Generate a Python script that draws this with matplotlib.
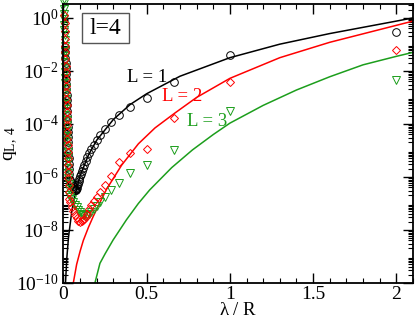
import numpy as np
import matplotlib.pyplot as plt
import matplotlib as mpl
from matplotlib.patches import Rectangle
from matplotlib.ticker import LogLocator, MultipleLocator, NullFormatter

mpl.rcParams['font.family'] = 'serif'
mpl.rcParams['font.serif'] = ['Liberation Serif', 'DejaVu Serif']
mpl.rcParams['mathtext.fontset'] = 'custom'
mpl.rcParams['mathtext.rm'] = 'Liberation Serif'
mpl.rcParams['mathtext.it'] = 'Liberation Serif:italic'

# symbols: x = lambda/R, q = log10 of q_{L,4}
# L = 1 (circles)
x_c = [2.0, 1.0, 0.667, 0.5, 0.4, 0.333, 0.286, 0.25, 0.222, 0.2,
       0.182, 0.167, 0.154, 0.143, 0.133, 0.125, 0.118, 0.111, 0.105, 0.1,
       0.095, 0.091, 0.087, 0.083, 0.08, 0.077, 0.074, 0.071, 0.069, 0.065,
       0.06, 0.055, 0.05, 0.045, 0.04,
       0.034, 0.033, 0.032, 0.031, 0.03, 0.029, 0.028, 0.027, 0.026, 0.025,
       0.024, 0.023, 0.022, 0.021, 0.02, 0.019, 0.018, 0.017, 0.016, 0.015,
       0.014, 0.013, 0.012, 0.011, 0.01]
q_c = [-0.52, -1.40, -2.40, -3.03, -3.35, -3.66, -3.91, -4.20, -4.42, -4.60,
       -4.79, -4.95, -5.10, -5.25, -5.40, -5.55, -5.65, -5.78, -5.88, -5.98,
       -6.08, -6.17, -6.25, -6.32, -6.40, -6.45, -6.48, -6.50, -6.48, -6.45,
       -6.40, -6.35, -6.28, -6.20, -6.10,
       -5.9, -5.7, -5.5, -5.3, -5.1, -4.9, -4.7, -4.5, -4.3, -4.1,
       -3.9, -3.7, -3.5, -3.3, -3.1, -2.9, -2.7, -2.5, -2.3, -2.1,
       -1.9, -1.7, -1.5, -1.3, -1.1]

# L = 2 (diamonds)
x_d = [2.0, 1.0, 0.667, 0.5, 0.4, 0.333, 0.286, 0.25, 0.222, 0.2,
       0.182, 0.167, 0.154, 0.143, 0.133, 0.125, 0.118, 0.111, 0.1, 0.09,
       0.08, 0.07, 0.06, 0.05, 0.04, 0.035,
       0.032, 0.031, 0.03, 0.029, 0.028, 0.027, 0.026, 0.025, 0.024, 0.023,
       0.022, 0.021, 0.02, 0.019, 0.018, 0.017, 0.016, 0.015, 0.014, 0.013,
       0.012, 0.011, 0.01, 0.009, 0.008, 0.007, 0.006]
q_d = [-1.21, -2.40, -3.79, -4.94, -5.08, -5.42, -5.96, -6.30, -6.55, -6.75,
       -6.90, -7.05, -7.22, -7.38, -7.50, -7.58, -7.64, -7.68, -7.70, -7.65,
       -7.55, -7.42, -7.28, -7.12, -6.95, -6.85,
       -6.55, -6.3, -6.05, -5.8, -5.55, -5.3, -5.05, -4.8, -4.55, -4.3,
       -4.05, -3.8, -3.55, -3.3, -3.05, -2.8, -2.55, -2.3, -2.05, -1.8,
       -1.55, -1.3, -1.05, -0.8, -0.5, -0.2, 0.1]

# L = 3 (triangles)
x_t = [2.0, 1.0, 0.667, 0.5, 0.4, 0.333, 0.286, 0.25, 0.222, 0.2,
       0.182, 0.167, 0.154, 0.143, 0.133, 0.125, 0.118, 0.111, 0.1, 0.09,
       0.08, 0.07, 0.06, 0.05, 0.04, 0.035,
       0.032, 0.031, 0.03, 0.029, 0.028, 0.027, 0.026, 0.025, 0.024, 0.023,
       0.022, 0.021, 0.02, 0.019, 0.018, 0.017, 0.016, 0.015, 0.014, 0.013,
       0.012, 0.011, 0.01, 0.0095, 0.009, 0.0085, 0.008, 0.0075, 0.007, 0.0065,
       0.006, 0.0055, 0.005, 0.0045, 0.004, 0.0035, 0.003]
q_t = [-2.34, -3.50, -4.98, -5.55, -5.86, -6.21, -6.49, -6.74, -6.93, -7.09,
       -7.22, -7.33, -7.40, -7.44, -7.46, -7.45, -7.43, -7.40, -7.33, -7.25,
       -7.15, -7.05, -6.95, -6.85, -6.75, -6.68,
       -6.45, -6.25, -6.05, -5.85, -5.65, -5.45, -5.25, -5.05, -4.85, -4.65,
       -4.45, -4.25, -4.05, -3.85, -3.65, -3.45, -3.25, -3.05, -2.85, -2.65,
       -2.45, -2.25, -2.05, -1.85, -1.65, -1.45, -1.25, -1.05, -0.85, -0.65,
       -0.45, -0.25, -0.05, 0.15, 0.35, 0.55, 0.72]

# analytic curves
x_l1 = [0.012, 0.02, 0.03, 0.05, 0.07, 0.1, 0.15, 0.2, 0.3, 0.4, 0.5, 0.7, 1.0, 1.3, 1.6, 2.0, 2.1]
q_l1 = [-10.0, -9.06, -8.28, -7.29, -6.64, -5.95, -5.17, -4.61, -3.83, -3.27, -2.86, -2.2,
        -1.5, -0.99, -0.59, -0.12, 0.0]
x_l2 = [0.059, 0.079, 0.1, 0.119, 0.15, 0.178, 0.22, 0.26, 0.35, 0.45, 0.55, 0.667, 0.8,
        1.0, 1.3, 1.6, 2.0, 2.1]
q_l2 = [-10.0, -9.3, -8.8, -8.4, -7.9, -7.5, -6.95, -6.45, -5.55, -4.75, -4.15, -3.6, -3.0,
        -2.28, -1.5, -0.92, -0.28, -0.12]
x_l3 = [0.189, 0.219, 0.25, 0.298, 0.378, 0.45, 0.518, 0.65, 0.775, 0.9, 1.0, 1.2, 1.4,
        1.6, 1.8, 2.0, 2.1]
q_l3 = [-10.0, -9.26, -8.9, -8.38, -7.62, -7.0, -6.49, -5.65, -4.98, -4.4, -3.97, -3.3,
        -2.72, -2.22, -1.77, -1.45, -1.3]

green = '#1c9e1c'

fig = plt.figure(figsize=(4.15, 3.19), dpi=100)
ax = fig.add_axes([0.153, 0.113, 0.842, 0.874])

ax.plot(x_l1, np.power(10.0, q_l1), color='black', lw=1.1)
ax.plot(x_l2, np.power(10.0, q_l2), color='red', lw=1.1)
ax.plot(x_l3, np.power(10.0, q_l3), color=green, lw=1.1)

ax.plot(x_c, np.power(10.0, q_c), 'o', mfc='none', mec='black', ms=5.5, mew=0.7, clip_on=False)
ax.plot(x_t, np.power(10.0, q_t), 'v', mfc='none', mec=green, ms=5.5, mew=0.7, clip_on=False)
ax.plot(x_d, np.power(10.0, q_d), 'D', mfc='none', mec='red', ms=4.5, mew=0.7, clip_on=False)

ax.set_yscale('log')
ax.set_xlim(0, 2.1)
ax.set_ylim(1e-10, 10**0.52)
ax.set_xticks([0, 0.5, 1, 1.5, 2])
ax.set_xticklabels(['0', '0.5', '1', '1.5', '2'])
ax.xaxis.set_minor_locator(MultipleLocator(0.1))
ax.set_yticks([1e-10, 1e-8, 1e-6, 1e-4, 1e-2, 1e0])
ax.yaxis.set_minor_locator(LogLocator(base=10.0, subs=np.arange(2, 10), numticks=50))
ax.yaxis.set_minor_formatter(NullFormatter())
ax.tick_params(which='both', direction='in', top=True, right=True, labelsize=14)
ax.tick_params(which='major', length=7, width=1)
ax.tick_params(which='minor', length=3.5, width=0.8)
ax.tick_params(axis='x', which='major', pad=2)
for s in ax.spines.values():
    s.set_linewidth(1.3)

ax.set_xlabel(r'$\mathrm{\lambda}$ / R', fontsize=13.5)
ax.xaxis.set_label_coords(0.5, -0.068)
ax.set_ylabel(r'q$_{\mathrm{L,\ 4}}$', fontsize=14)
ax.yaxis.set_label_coords(-0.125, 0.5)

ax.text(0.38, 10**-2.23, 'L = 1', color='black', fontsize=13.5, va='center')
ax.text(0.59, 10**-2.98, 'L = 2', color='red', fontsize=13.5, va='center')
ax.text(0.74, 10**-3.89, 'L = 3', color=green, fontsize=13.5, va='center')

ax.add_patch(Rectangle((0.053, 0.86), 0.134, 0.108, transform=ax.transAxes,
                       fc='white', ec='#555555', lw=1, zorder=5))
ax.text(0.12, 0.912, 'l=4', transform=ax.transAxes, fontsize=17,
        ha='center', va='center', zorder=6)

fig.savefig('out.png', dpi=100)
